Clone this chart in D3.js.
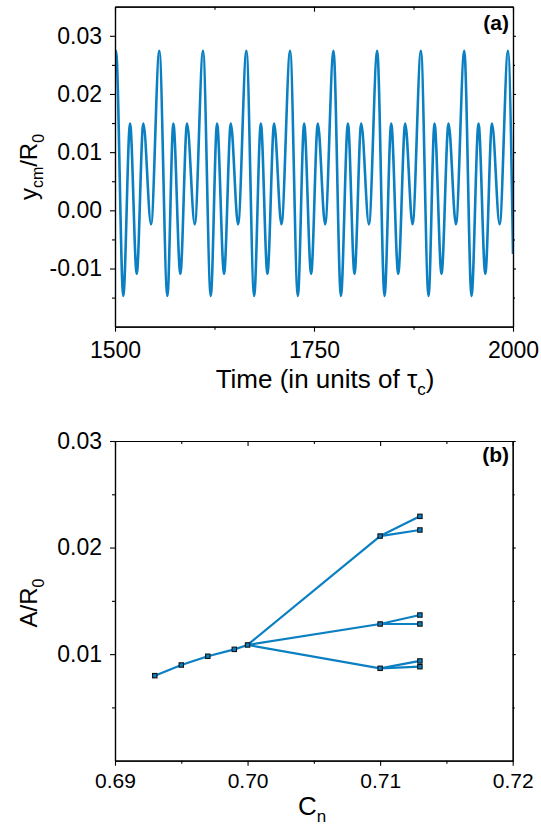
<!DOCTYPE html>
<html><head><meta charset="utf-8">
<script src="https://cdn.jsdelivr.net/npm/d3@7"></script>
<style>body{margin:0;background:#fff} svg{display:block}</style>
</head><body>
<svg id="c" width="541" height="825"></svg>
<script>
// ---- Panel (a) data: y_cm/R0 vs time (turning points)
const timeVals = [1500, 1501.3, 1510.4, 1518.9, 1527.3, 1535.6, 1545.3,
  1555.7, 1565.8, 1573.3, 1582.1, 1590.5, 1600.2,
  1610.6, 1620.3, 1628.2, 1637.0, 1645.5, 1654.6,
  1665.1, 1674.8, 1683.2, 1691.5, 1699.9, 1709.1,
  1720.0, 1729.7, 1737.6, 1746.4, 1754.8, 1764.0,
  1774.5, 1783.8, 1792.6, 1800.9, 1809.3, 1819.0,
  1829.4, 1838.6, 1847.0, 1855.8, 1864.6, 1873.8,
  1884.3, 1893.9, 1901.4, 1910.2, 1919.0, 1928.3,
  1938.8, 1947.9, 1956.7, 1965.2, 1973.6, 1983.2,
  1993.7, 2000];
const ycmVals = [0.0262, 0.0274, -0.0147, 0.0149, -0.0109, 0.0149, -0.0024,
  0.0274, -0.0147, 0.0149, -0.0109, 0.0149, -0.0024,
  0.0274, -0.0147, 0.0149, -0.0109, 0.0149, -0.0024,
  0.0274, -0.0147, 0.0149, -0.0109, 0.0149, -0.0024,
  0.0274, -0.0147, 0.0149, -0.0109, 0.0149, -0.0024,
  0.0274, -0.0147, 0.0149, -0.0109, 0.0149, -0.0024,
  0.0274, -0.0147, 0.0149, -0.0109, 0.0149, -0.0024,
  0.0274, -0.0147, 0.0149, -0.0109, 0.0149, -0.0024,
  0.0274, -0.0147, 0.0149, -0.0109, 0.0149, -0.0024,
  0.0274, -0.0075];
const timeTicks = [1500, 1750, 2000];
const timeMinor = [1625, 1875];
const ycmTicks = [-0.01, 0.00, 0.01, 0.02, 0.03];
const ycmLabels = ["-0.01", "0.00", "0.01", "0.02", "0.03"];
const ycmMinor = [-0.015, -0.005, 0.005, 0.015, 0.025];

// ---- Panel (b) data: amplitude A/R0 vs Cn (bifurcation)
const cnMain = [0.693, 0.695, 0.697, 0.699, 0.700];
const aMain = [0.00798, 0.00898, 0.00980, 0.01045, 0.01086];
const cnBranch = 0.710;
const aBranch = [0.02108, 0.01283, 0.00867];
const cnSplit = 0.713;
const aSplit = [[0.02293, 0.02165], [0.01367, 0.01283], [0.00936, 0.00882]];
const cnTicks = [0.69, 0.70, 0.71, 0.72];
const cnMinor = [0.695, 0.705, 0.715];
const aTicks = [0.01, 0.02, 0.03];
const aMinor = [0.005, 0.015, 0.025];

const COLOR = "#0a7fc2";
const FONT = "Arial, 'Liberation Sans', sans-serif";
const svg = d3.select("#c");

function frame(g, x, y, xt, xm, yt, ym, xfmt, yfmt, xFont, yFont, xLabY) {
  const [x0, x1] = x.range(); const [y1, y0] = y.range();
  const gl = g.append("g").attr("transform", `translate(${x0},0)`);
  gl.call(d3.axisLeft(y).tickValues(yt).tickFormat(yfmt).tickSize(5).tickPadding(8).tickSizeOuter(0));
  gl.append("g").call(d3.axisLeft(y).tickValues(ym).tickFormat("").tickSize(3).tickSizeOuter(0));
  gl.selectAll("text").style("font-family", FONT).style("font-size", yFont + "px").attr("fill", "#000");
  const gb = g.append("g").attr("transform", `translate(0,${y1})`);
  gb.call(d3.axisBottom(x).tickValues(xt).tickFormat(xfmt).tickSize(5).tickSizeOuter(0));
  gb.append("g").call(d3.axisBottom(x).tickValues(xm).tickFormat("").tickSize(3).tickSizeOuter(0));
  gb.selectAll("text").style("font-family", FONT).style("font-size", xFont + "px").attr("fill", "#000")
    .attr("y", xLabY).attr("dy", 0);
  const gt = g.append("g").attr("transform", `translate(0,${y0})`);
  gt.call(d3.axisTop(x).tickValues(xt).tickFormat("").tickSize(-5).tickSizeOuter(0));
  gt.append("g").call(d3.axisTop(x).tickValues(xm).tickFormat("").tickSize(-3).tickSizeOuter(0));
  const gr = g.append("g").attr("transform", `translate(${x1},0)`);
  gr.call(d3.axisRight(y).tickValues(yt).tickFormat("").tickSize(3).tickSizeOuter(0));
  gr.append("g").call(d3.axisRight(y).tickValues(ym).tickFormat("").tickSize(2).tickSizeOuter(0));
  g.selectAll(".domain").attr("stroke", "#000").attr("stroke-width", 1.2);
  g.selectAll(".tick line").attr("stroke", "#000").attr("stroke-width", 1.1);
}

// ================= Panel (a)
const xa = d3.scaleLinear().domain([1500, 2000]).range([115, 513]);
const ya = d3.scaleLinear().domain([-0.02, 0.035]).range([326.7, 6.7]);
const ga = svg.append("g");
ga.append("clipPath").attr("id", "clipA").append("rect")
  .attr("x", 115).attr("y", 6.7).attr("width", 398).attr("height", 320);
const ptsA = timeVals.map((t, i) => [t, ycmVals[i]]);
ga.append("path").datum(ptsA)
  .attr("clip-path", "url(#clipA)")
  .attr("fill", "none").attr("stroke", COLOR).attr("stroke-width", 2.6)
  .attr("stroke-linejoin", "round")
  .attr("d", d3.line().x(d => xa(d[0])).y(d => ya(d[1])).curve(d3.curveMonotoneX));
frame(ga, xa, ya, timeTicks, timeMinor, ycmTicks, ycmMinor,
  d => d3.format("d")(d), (d, i) => ycmLabels[i], 23, 23, 31.5);

const ta = ga.append("text").attr("x", 325).attr("y", 388).attr("text-anchor", "middle")
  .style("font-family", FONT).style("font-size", "26px");
ta.append("tspan").text("Time (in units of τ");
ta.append("tspan").attr("dy", 7).style("font-size", "17px").text("c");
ta.append("tspan").attr("dy", -7).text(")");

const tya = ga.append("text").attr("transform", "translate(37,167) rotate(-90)")
  .attr("text-anchor", "middle").style("font-family", FONT).style("font-size", "24px");
tya.append("tspan").text("y");
tya.append("tspan").attr("dy", 6).style("font-size", "16px").text("cm");
tya.append("tspan").attr("dy", -6).text("/R");
tya.append("tspan").attr("dy", 7).style("font-size", "16px").text("0");

ga.append("text").attr("x", 509).attr("y", 30).attr("text-anchor", "end")
  .style("font-family", FONT).style("font-size", "21px").style("font-weight", "bold").text("(a)");

// ================= Panel (b)
const xb = d3.scaleLinear().domain([0.69, 0.72]).range([115, 512.7]);
const yb = d3.scaleLinear().domain([0, 0.03]).range([760.7, 441]);
const gbp = svg.append("g");
const lineB = d3.line().x(d => xb(d[0])).y(d => yb(d[1]));
const segs = [];
segs.push(cnMain.map((c, i) => [c, aMain[i]]));
const root = [cnMain[cnMain.length - 1], aMain[aMain.length - 1]];
aBranch.forEach((a, i) => {
  segs.push([root, [cnBranch, a]]);
  aSplit[i].forEach(s => segs.push([[cnBranch, a], [cnSplit, s]]));
});
gbp.selectAll("path.seg").data(segs).join("path").attr("class", "seg")
  .attr("fill", "none").attr("stroke", COLOR).attr("stroke-width", 2.2)
  .attr("d", d => lineB(d));
const markers = cnMain.map((c, i) => [c, aMain[i]])
  .concat(aBranch.map(a => [cnBranch, a]))
  .concat(aSplit.flat().map(a => [cnSplit, a]));
gbp.selectAll("rect.m").data(markers).join("rect").attr("class", "m")
  .attr("x", d => xb(d[0]) - 2.2).attr("y", d => yb(d[1]) - 2.2)
  .attr("width", 4.4).attr("height", 4.4)
  .attr("fill", COLOR).attr("stroke", "#111").attr("stroke-width", 1.1);
frame(gbp, xb, yb, cnTicks, cnMinor, aTicks, aMinor,
  d => d3.format(".2f")(d), d => d3.format(".2f")(d), 21, 23, 27.5);

const txb = gbp.append("text").attr("x", 312).attr("y", 815).attr("text-anchor", "middle")
  .style("font-family", FONT).style("font-size", "26px");
txb.append("tspan").text("C");
txb.append("tspan").attr("dy", 7).style("font-size", "17px").text("n");

const tyb = gbp.append("text").attr("transform", "translate(37,603) rotate(-90)")
  .attr("text-anchor", "middle").style("font-family", FONT).style("font-size", "24px");
tyb.append("tspan").text("A/R");
tyb.append("tspan").attr("dy", 7).style("font-size", "16px").text("0");

gbp.append("text").attr("x", 509).attr("y", 462).attr("text-anchor", "end")
  .style("font-family", FONT).style("font-size", "21px").style("font-weight", "bold").text("(b)");
</script>
</body></html>
